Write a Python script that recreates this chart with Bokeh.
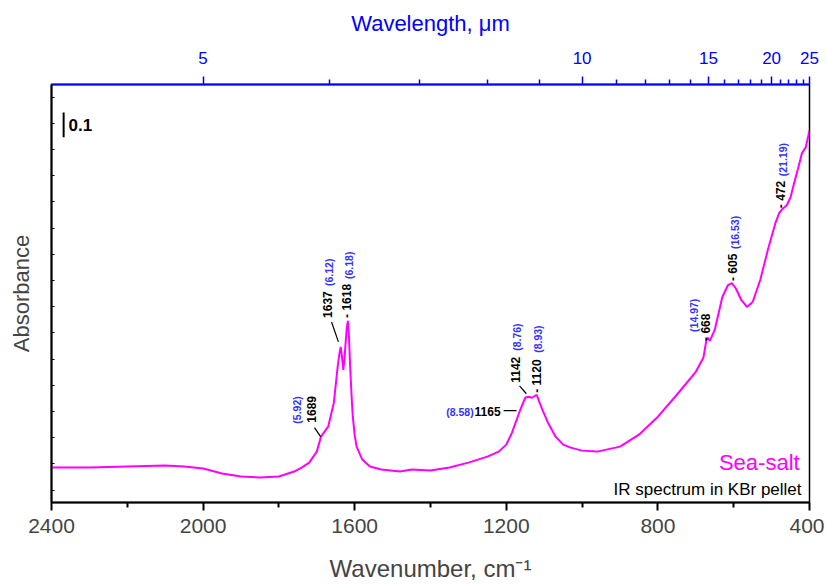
from bokeh.plotting import figure
from bokeh.models import Range1d, LinearAxis, FixedTicker, CustomJSTickFormatter
from bokeh.core.properties import value
from bokeh.embed import file_html
from bokeh.resources import INLINE
import numpy as np

# ---- spectrum (wavenumber cm-1, absorbance) ----
wavenumber = [2400, 2300, 2200, 2100, 2050, 2000, 1950, 1900, 1850, 1800, 1760, 1740, 1720,
              1700, 1689, 1670, 1655, 1645, 1640, 1637, 1634, 1630, 1627, 1624, 1621, 1618,
              1615, 1612, 1608, 1605, 1600, 1595, 1580, 1560, 1530, 1480, 1450, 1400, 1350,
              1300, 1250, 1220, 1200, 1185, 1165, 1150, 1142, 1132, 1120, 1105, 1090, 1070,
              1050, 1030, 1000, 960, 900, 850, 800, 750, 700, 680, 672, 668, 663, 650, 630,
              615, 605, 595, 580, 565, 550, 530, 510, 490, 480, 472, 460, 450, 440, 430,
              420, 410, 400]
absorbance = [0.140, 0.140, 0.144, 0.148, 0.144, 0.136, 0.116, 0.104, 0.100, 0.104, 0.124,
              0.140, 0.160, 0.204, 0.264, 0.304, 0.400, 0.544, 0.600, 0.624, 0.590, 0.532,
              0.575, 0.640, 0.700, 0.728, 0.660, 0.544, 0.420, 0.344, 0.270, 0.224, 0.172,
              0.144, 0.132, 0.124, 0.132, 0.128, 0.140, 0.160, 0.184, 0.204, 0.232, 0.280,
              0.364, 0.420, 0.424, 0.420, 0.432, 0.372, 0.320, 0.264, 0.232, 0.220, 0.208,
              0.204, 0.224, 0.272, 0.344, 0.432, 0.524, 0.580, 0.652, 0.660, 0.648, 0.692,
              0.824, 0.872, 0.880, 0.860, 0.812, 0.784, 0.804, 0.892, 1.012, 1.120, 1.160,
              1.176, 1.192, 1.224, 1.284, 1.340, 1.400, 1.424, 1.492]

# ---- axes ticks ----
bottom_ticks = [2400, 2000, 1600, 1200, 800, 400]
bottom_minor = [2200, 1800, 1400, 1000, 600]
wavelength_major = [5, 10, 15, 20, 25]
wavelength_minor = [6, 7, 8, 9, 11, 12, 13, 14, 16, 17, 18, 19, 21, 22, 23, 24]

# ---- peak annotations (vertical labels) ----
blk_text = ["1689", "1637", "- 1618", "1142", "- 1120", "- 668", "- 605", "- 472"]
blk_x = [1714, 1672, 1619, 1176, 1120, 672, 603, 476]
blk_y = [0.320, 0.740, 0.740, 0.480, 0.440, 0.648, 0.888, 1.180]
blu_text = ["(5.92)", "(6.12)", "(6.18)", "(8.76)", "(8.93)", "(14.97)", "(16.53)", "(21.19)"]
blu_x = [1751, 1667, 1614, 1171, 1116, 706, 596, 469]
blu_y = [0.316, 0.868, 0.896, 0.608, 0.600, 0.684, 1.016, 1.308]
lead_x0 = [1706, 1661, 1165, 1207]
lead_y0 = [0.300, 0.724, 0.468, 0.368]
lead_x1 = [1690, 1643, 1147, 1173]
lead_y1 = [0.264, 0.644, 0.436, 0.368]

p = figure(width=824, height=584, output_backend="svg", toolbar_location=None,
           x_range=Range1d(2400, 400), y_range=Range1d(0, 1.676),
           min_border_left=51, min_border_right=15, min_border_top=84, min_border_bottom=81,
           x_axis_location=None, y_axis_location=None)
p.xgrid.visible = False
p.ygrid.visible = False
p.outline_line_color = "black"
p.outline_line_width = 1.5
p.background_fill_color = "white"
p.border_fill_color = "white"

FONT = "Liberation Sans"
BLUE = "#0000FF"
LBLUE = "#3333FF"

# bottom axis
xb = LinearAxis(ticker=FixedTicker(ticks=bottom_ticks, minor_ticks=bottom_minor),
                axis_label="Wavenumber, cm\u207b\u00b9")
xb.axis_line_width = 2
xb.major_tick_out = 8
xb.major_tick_in = 0
xb.minor_tick_out = 5
xb.minor_tick_in = 0
xb.major_tick_line_width = 2
xb.minor_tick_line_width = 2
xb.major_label_text_font = FONT
xb.major_label_text_font_size = "21px"
xb.major_label_standoff = 8
xb.axis_label_text_font = FONT
xb.axis_label_text_font_size = "24px"
xb.axis_label_text_font_style = "normal"
xb.axis_label_standoff = 19
p.add_layout(xb, "below")

# top axis (wavelength)
top_major = [10000.0 / w for w in wavelength_major]
top_minor = [10000.0 / w for w in wavelength_minor]
xt = LinearAxis(ticker=FixedTicker(ticks=top_major, minor_ticks=top_minor),
                formatter=CustomJSTickFormatter(code="return String(Math.round(10000/tick));"),
                axis_label="Wavelength, \u03bcm")
xt.axis_line_color = BLUE
xt.axis_line_width = 2
xt.major_tick_line_color = BLUE
xt.minor_tick_line_color = BLUE
xt.major_tick_line_width = 1.5
xt.minor_tick_line_width = 1.5
xt.major_tick_out = 8
xt.major_tick_in = 0
xt.minor_tick_out = 5
xt.minor_tick_in = 0
xt.major_label_text_color = BLUE
xt.major_label_text_font = FONT
xt.major_label_text_font_size = "17px"
xt.major_label_standoff = 13
xt.axis_label_text_color = BLUE
xt.axis_label_text_font = FONT
xt.axis_label_text_font_size = "22px"
xt.axis_label_text_font_style = "normal"
xt.axis_label_standoff = 13
p.add_layout(xt, "above")

# left axis
yl = LinearAxis(ticker=FixedTicker(ticks=list(np.round(np.arange(0.05, 1.65, 0.105), 3))),
                axis_label="Absorbance")
yl.axis_line_width = 2
yl.major_tick_in = 3
yl.major_tick_out = 0
yl.minor_tick_line_color = None
yl.major_label_text_font_size = "0px"
yl.major_label_text_color = None
yl.axis_label_text_font = FONT
yl.axis_label_text_font_size = "22px"
yl.axis_label_text_font_style = "normal"
yl.axis_label_standoff = 18
p.add_layout(yl, "left")

# spectrum
p.line(wavenumber, absorbance, line_color="#FF00FF", line_width=2)

# annotations
p.text(x=blk_x, y=blk_y, text=blk_text, angle=np.pi / 2, text_align="left",
       text_baseline="middle", text_font=value(FONT), text_font_size="12px",
       text_font_style="bold", text_color="black")
p.text(x=blu_x, y=blu_y, text=blu_text, angle=np.pi / 2, text_align="left",
       text_baseline="middle", text_font=value(FONT), text_font_size="10.5px",
       text_font_style="bold", text_color=LBLUE)
p.segment(x0=lead_x0, y0=lead_y0, x1=lead_x1, y1=lead_y1, line_color="black", line_width=1.2)

# horizontal 1165 label
p.text(x=[1286], y=[0.364], text=["(8.58)"], text_align="right", text_baseline="middle",
       text_font=value(FONT), text_font_size="10.5px", text_font_style="bold",
       text_color=LBLUE)
p.text(x=[1215], y=[0.364], text=["1165"], text_align="right", text_baseline="middle",
       text_font=value(FONT), text_font_size="12px", text_font_style="bold",
       text_color="black")

# scale bar
p.segment(x0=[2368], y0=[1.464], x1=[2368], y1=[1.564], line_color="black", line_width=2)
p.text(x=[2355], y=[1.512], text=["0.1"], text_align="left", text_baseline="middle",
       text_font=value(FONT), text_font_size="17px", text_font_style="bold",
       text_color="black")

# sample labels
p.text(x=[426], y=[0.160], text=["Sea-salt"], text_align="right", text_baseline="middle",
       text_font=value(FONT), text_font_size="22px", text_color="#FF00FF")
p.text(x=[421], y=[0.052], text=["IR spectrum in KBr pellet"], text_align="right",
       text_baseline="middle", text_font=value(FONT), text_font_size="17px",
       text_color="black")

open("out.html", "w").write(file_html(p, INLINE))
